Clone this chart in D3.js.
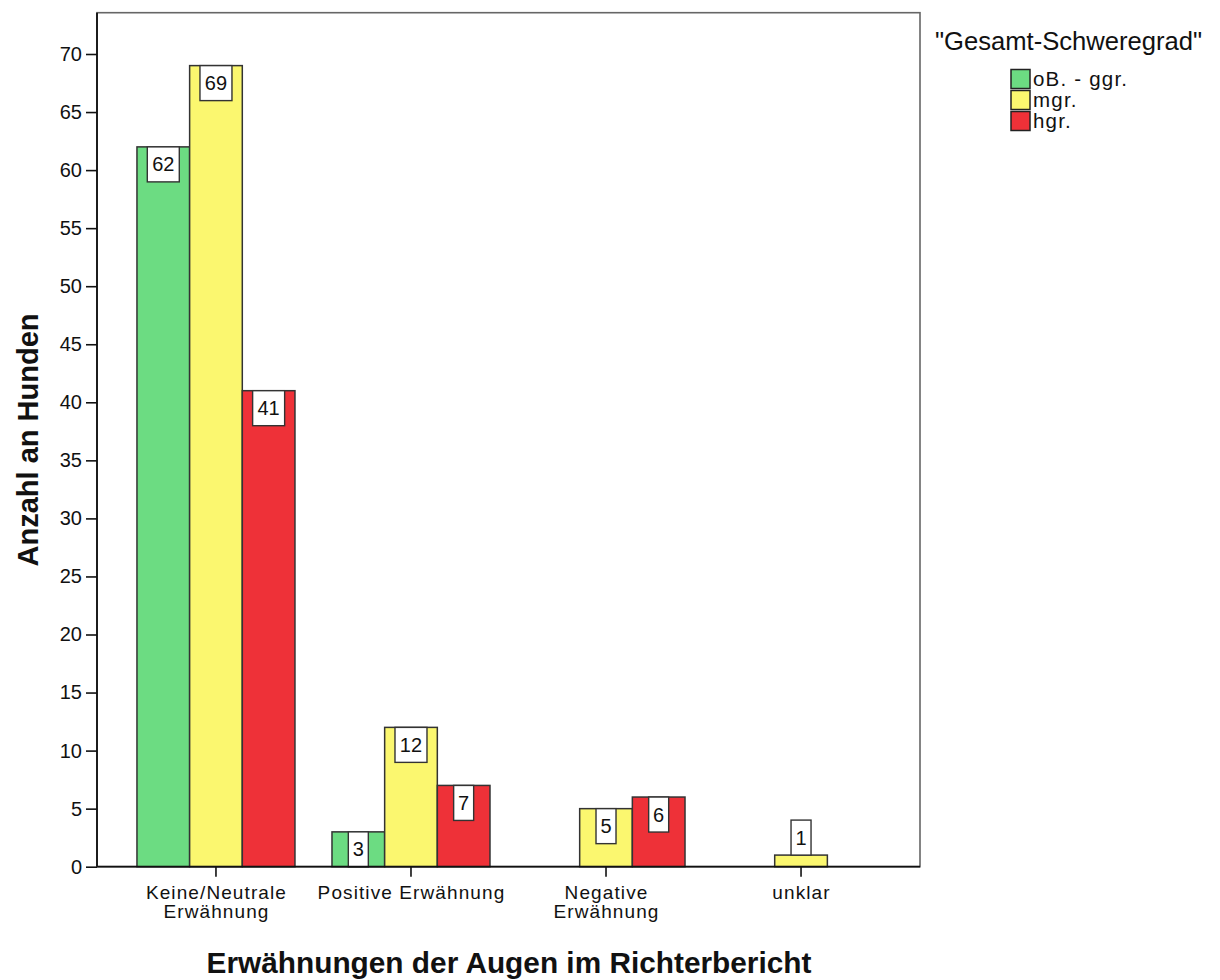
<!DOCTYPE html>
<html>
<head>
<meta charset="utf-8">
<script src="https://cdn.jsdelivr.net/npm/d3@7"></script>
<style>
  html, body { margin: 0; padding: 0; background: #fff; }
  text { font-family: "Liberation Sans", Arial, sans-serif; }
</style>
</head>
<body>
<svg id="chart" width="1220" height="980"></svg>
<script>
// ---- data ----
const categories = [
  ["Keine/Neutrale", "Erwähnung"],
  ["Positive Erwähnung"],
  ["Negative", "Erwähnung"],
  ["unklar"]
];
const categoryKeys = ["Keine/Neutrale Erwähnung", "Positive Erwähnung", "Negative Erwähnung", "unklar"];
const seriesNames = ["oB. - ggr.", "mgr.", "hgr."];
const seriesColors = ["#6cdc82", "#fbf76f", "#ee3138"];
const valuesGreen = [62, 3, 0, 0];
const valuesYellow = [69, 12, 5, 1];
const valuesRed = [41, 7, 6, 0];
const yTicks = [0, 5, 10, 15, 20, 25, 30, 35, 40, 45, 50, 55, 60, 65, 70];
const legendTitle = "\"Gesamt-Schweregrad\"";
const yTitle = "Anzahl an Hunden";
const xTitle = "Erwähnungen der Augen im Richterbericht";

const seriesValues = [valuesGreen, valuesYellow, valuesRed];

(function () {
// ---- layout ----
const svg = d3.select("#chart");
const pLeft = 97, pRight = 920, pTop = 12.7, pBottom = 866.7;

const x0 = d3.scaleBand().domain(categoryKeys).range([pLeft, pRight]).paddingOuter(0.11).paddingInner(0);
const groupW = 158;
const x1 = d3.scaleBand().domain(seriesNames).range([0, groupW]);
const y = d3.scaleLinear().domain([0, 70]).range([pBottom, 54]);

// frame (top & right)
svg.append("rect")
  .attr("x", pLeft).attr("y", pTop)
  .attr("width", pRight - pLeft).attr("height", pBottom - pTop)
  .attr("fill", "none").attr("stroke", "#666").attr("stroke-width", 1.6);

// bars
const bars = [];
seriesValues.forEach((vals, si) => {
  vals.forEach((v, ci) => {
    if (v > 0) bars.push({ s: si, c: ci, v: v });
  });
});

const barX = d => x0(categoryKeys[d.c]) + (x0.bandwidth() - groupW) / 2 + x1(seriesNames[d.s]);

svg.append("g").selectAll("rect").data(bars).join("rect")
  .attr("x", barX)
  .attr("y", d => y(d.v))
  .attr("width", x1.bandwidth())
  .attr("height", d => pBottom - y(d.v))
  .attr("fill", d => seriesColors[d.s])
  .attr("stroke", "#333")
  .attr("stroke-width", 1.5);

// value labels
const boxH = 35;
const gLab = svg.append("g");
bars.forEach(d => {
  const cx = barX(d) + x1.bandwidth() / 2;
  const barTop = y(d.v);
  const barH = pBottom - barTop;
  const txt = String(d.v);
  const w = txt.length > 1 ? 32 : 20;
  const boxTop = barH >= boxH - 2 ? barTop : barTop - boxH;
  gLab.append("rect")
    .attr("x", cx - w / 2).attr("y", boxTop)
    .attr("width", w).attr("height", boxH)
    .attr("fill", "#fff").attr("stroke", "#333").attr("stroke-width", 1.4);
  gLab.append("text")
    .attr("x", cx).attr("y", boxTop + boxH / 2 + 7)
    .attr("text-anchor", "middle")
    .attr("font-size", 20).attr("fill", "#111")
    .text(txt);
});

// y axis
const yAxis = d3.axisLeft(y).tickValues(yTicks).tickSize(11).tickPadding(4).tickFormat(d3.format("d"));
const gy = svg.append("g").attr("transform", `translate(${pLeft},0)`).call(yAxis);
gy.select(".domain").attr("d", `M0,${pTop}V${pBottom}`).attr("stroke", "#111").attr("stroke-width", 1.8);
gy.selectAll(".tick line").attr("stroke", "#111").attr("stroke-width", 1.6);
gy.selectAll(".tick text").attr("font-size", 20).attr("fill", "#111")
  .attr("font-family", "'Liberation Sans', Arial, sans-serif");

// x axis
const xAxis = d3.axisBottom(x0).tickSize(10).tickFormat("");
const gx = svg.append("g").attr("transform", `translate(0,${pBottom})`).call(xAxis);
gx.select(".domain").attr("d", `M${pLeft},0H${pRight}`).attr("stroke", "#111").attr("stroke-width", 1.8);
gx.selectAll(".tick line").attr("stroke", "#111").attr("stroke-width", 1.6);

// category labels
categories.forEach((lines, i) => {
  const cx = x0(categoryKeys[i]) + x0.bandwidth() / 2;
  const t = svg.append("text")
    .attr("text-anchor", "middle")
    .attr("font-size", 19).attr("letter-spacing", 1.1).attr("fill", "#111");
  lines.forEach((ln, j) => {
    t.append("tspan").attr("x", cx + 0.5).attr("y", 899 + j * 19).text(ln);
  });
});

// axis titles
svg.append("text")
  .attr("transform", "translate(38,440) rotate(-90)")
  .attr("text-anchor", "middle")
  .attr("font-size", 29).attr("font-weight", "bold").attr("fill", "#111")
  .text(yTitle);

svg.append("text")
  .attr("x", 509).attr("y", 973)
  .attr("text-anchor", "middle")
  .attr("font-size", 29.8).attr("font-weight", "bold").attr("fill", "#111")
  .text(xTitle);

// legend
svg.append("text")
  .attr("x", 935).attr("y", 50)
  .attr("font-size", 25.6).attr("fill", "#111")
  .text(legendTitle);

const lg = svg.append("g");
seriesNames.forEach((name, i) => {
  const cy = 79 + i * 21;
  lg.append("rect")
    .attr("x", 1011).attr("y", cy - 9.5)
    .attr("width", 19).attr("height", 19)
    .attr("fill", seriesColors[i]).attr("stroke", "#222").attr("stroke-width", 1.5);
  lg.append("text")
    .attr("x", 1033).attr("y", cy + 7)
    .attr("font-size", 20.5).attr("letter-spacing", 1.2).attr("fill", "#111")
    .text(name);
});
})();
</script>
</body>
</html>
